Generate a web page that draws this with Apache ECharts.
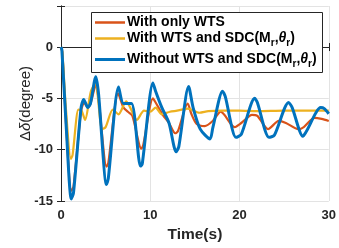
<!DOCTYPE html>
<html>
<head>
<meta charset="utf-8">
<script src="https://cdn.jsdelivr.net/npm/echarts@6/dist/echarts.min.js"></script>
<style>
  html, body { margin: 0; padding: 0; background: #fff; }
  #main { width: 339px; height: 248px; }
</style>
</head>
<body>
<div id="main"></div>
<script>
// With only WTS
const tOnly = [0, 0.15, 0.6, 1.15, 1.4, 2.25, 2.6, 3.0, 3.3, 3.9, 4.2, 5.1, 5.3, 6.4, 7.0, 7.5, 8.0, 9.0, 9.2, 10.3, 10.6, 11.4, 12.1, 12.8, 13.1, 14.2, 14.6, 15.2, 16.1, 17.0, 17.9, 18.3, 19.45, 20.2, 21.4, 22.0, 23.2, 24.4, 25.2, 26.6, 27.2, 28.4, 29.2, 30];
const vOnly = [0, -0.5, -8, -14.0, -13.6, -6.2, -5.4, -5.9, -5.5, -3.75, -5.0, -11.65, -11.3, -4.5, -5.9, -6.3, -6.7, -9.9, -9.6, -5.0, -5.4, -6.6, -7.4, -8.4, -8.2, -5.5, -6.5, -7.5, -7.7, -7.2, -6.3, -6.6, -7.8, -7.4, -6.6, -6.7, -8.0, -7.2, -7.4, -8.0, -7.8, -6.9, -7.0, -7.2];

// With WTS and SDC
const tSDC = [0, 0.15, 0.55, 1.1, 1.3, 1.95, 2.3, 2.7, 3.35, 3.9, 4.1, 4.6, 5.0, 5.8, 6.45, 7.3, 7.7, 8.5, 9.3, 10.0, 10.6, 11.3, 12.2, 13.0, 14.2, 15.5, 16.5, 18, 20, 22, 25, 28, 30];
const vSDC = [0, -0.5, -6, -10.9, -10.5, -6.1, -6.2, -7.1, -4.3, -3.5, -4.6, -8.0, -7.8, -6.1, -6.55, -5.3, -5.8, -7.1, -6.2, -6.3, -5.9, -6.55, -6.3, -6.2, -6.0, -6.4, -6.25, -6.2, -6.2, -6.25, -6.2, -6.2, -6.2];

// Without WTS and SDC
const tNone = [0, 0.1, 0.6, 1.15, 1.4, 2.25, 2.55, 3.0, 3.3, 3.9, 4.2, 5.1, 5.3, 6.45, 7.0, 7.9, 8.9, 9.1, 10.3, 10.6, 11.3, 12.1, 12.9, 13.2, 14.3, 14.8, 15.6, 16.7, 17.0, 18.1, 18.4, 19.6, 20.2, 21.7, 22.0, 23.3, 23.9, 25.5, 25.9, 27.1, 27.5, 29.1, 29.5, 30];
const vNone = [0, -0.3, -8, -14.8, -14.2, -5.9, -5.1, -5.9, -5.5, -2.9, -4.5, -13.4, -12.8, -3.9, -5.5, -5.5, -11.6, -11.4, -3.5, -4.3, -5.9, -7.4, -10.2, -9.7, -3.85, -5.9, -8.0, -8.95, -7.9, -4.3, -4.8, -8.8, -8.5, -5.0, -5.4, -8.8, -8.6, -5.4, -5.9, -8.7, -8.2, -5.9, -6.0, -6.5];

const xTicks = [0, 10, 20, 30];
const yTicks = [-15, -10, -5, 0];

const names = ['With only WTS', 'With WTS and SDC(Mr,θr)', 'Without WTS and SDC(Mr,θr)'];
const colors = ['#D95319', '#EDB120', '#0072BD'];

function pairs(t, v) {
  return t.map((x, i) => [x, v[i]]);
}

const chartDom = document.getElementById('main');
const myChart = echarts.init(chartDom, null, { renderer: 'canvas' });

const axisColor = '#262626';
const font = 'Arial, "Liberation Sans", Helvetica, sans-serif';

const rich = {
  a: { fontFamily: font, fontSize: 14, fontWeight: 'bold', color: axisColor },
  s: { fontFamily: font, fontSize: 10, fontWeight: 'bold', color: axisColor, padding: [10, 0, 0, 0] },
  i: { fontFamily: font, fontSize: 14, fontWeight: 'bold', fontStyle: 'italic', color: axisColor }
};

const legendRows = [
  { y: 22.5, text: '{a|With only WTS}' },
  { y: 38.5, text: '{a|With WTS and SDC(M}{s|r}{a|,}{i|θ}{s|r}{a|)}' },
  { y: 59.5, text: '{a|Without WTS and SDC(M}{s|r}{a|,}{i|θ}{s|r}{a|)}' }
];

const graphic = [
  {
    type: 'rect',
    shape: { x: 91.5, y: 12.5, width: 231, height: 60 },
    style: { fill: '#fff', stroke: axisColor, lineWidth: 1 },
    z: 100
  }
];
legendRows.forEach((r, i) => {
  graphic.push({
    type: 'line',
    shape: { x1: 95, y1: r.y, x2: 125, y2: r.y },
    style: { stroke: colors[i], lineWidth: i === 2 ? 3 : 2.5 },
    z: 101
  });
  graphic.push({
    type: 'text',
    x: 127,
    y: r.y,
    style: { text: r.text, rich: rich, align: 'left', verticalAlign: 'middle' },
    z: 101
  });
});

const option = {
  animation: false,
  grid: { left: 61, right: 7, top: 6, bottom: 42.5 },
  xAxis: [
    {
      type: 'value', min: 0, max: 30, interval: 10,
      name: 'Time(s)', nameLocation: 'middle', nameGap: 26, nameMoveOverlap: false,
      nameTextStyle: { fontFamily: font, fontSize: 15.5, fontWeight: 'bold', color: axisColor },
      axisLine: { show: true, lineStyle: { color: axisColor, width: 1 } },
      axisTick: { show: true, inside: true, length: 4, lineStyle: { color: axisColor } },
      axisLabel: { fontFamily: font, fontSize: 13, fontWeight: 'bold', color: axisColor, margin: 8 },
      splitLine: { show: true, lineStyle: { color: '#e3e3e3', width: 1 } }
    },
    {
      type: 'value', min: 0, max: 30, interval: 10, position: 'top',
      axisLine: { show: true, lineStyle: { color: axisColor, width: 1 } },
      axisTick: { show: true, inside: true, length: 4, lineStyle: { color: axisColor } },
      axisLabel: { show: false },
      splitLine: { show: false }
    }
  ],
  yAxis: [
    {
      type: 'value', min: -15, max: 4, interval: 5,
      name: '{a|Δ}{i|δ}{a|(degree)}', nameLocation: 'middle', nameGap: 28, nameMoveOverlap: false,
      nameTextStyle: {
        rich: {
          a: { fontFamily: font, fontSize: 15, color: axisColor },
          i: { fontFamily: font, fontSize: 15, fontStyle: 'italic', color: axisColor }
        }
      },
      axisLine: { show: true, lineStyle: { color: axisColor, width: 1 } },
      axisTick: { show: true, inside: true, length: 4, lineStyle: { color: axisColor } },
      axisLabel: {
        fontFamily: font, fontSize: 13, fontWeight: 'bold', color: axisColor, margin: 8,
        formatter: (v) => (yTicks.indexOf(v) >= 0 ? String(v) : '')
      },
      splitLine: { show: true, lineStyle: { color: '#e3e3e3', width: 1 } }
    },
    {
      type: 'value', min: -15, max: 4, interval: 5, position: 'right',
      axisLine: { show: true, lineStyle: { color: axisColor, width: 1 } },
      axisTick: { show: true, inside: true, length: 4, lineStyle: { color: axisColor } },
      axisLabel: { show: false },
      splitLine: { show: false }
    }
  ],
  series: [
    { name: names[0], type: 'line', data: pairs(tOnly, vOnly), showSymbol: false, smooth: 0.25,
      lineStyle: { color: colors[0], width: 2.2 }, itemStyle: { color: colors[0] } },
    { name: names[1], type: 'line', data: pairs(tSDC, vSDC), showSymbol: false, smooth: 0.25,
      lineStyle: { color: colors[1], width: 2.2 }, itemStyle: { color: colors[1] } },
    { name: names[2], type: 'line', data: pairs(tNone, vNone), showSymbol: false, smooth: 0.25,
      lineStyle: { color: colors[2], width: 3 }, itemStyle: { color: colors[2] } }
  ],
  graphic: graphic
};

option && myChart.setOption(option);
</script>
</body>
</html>
